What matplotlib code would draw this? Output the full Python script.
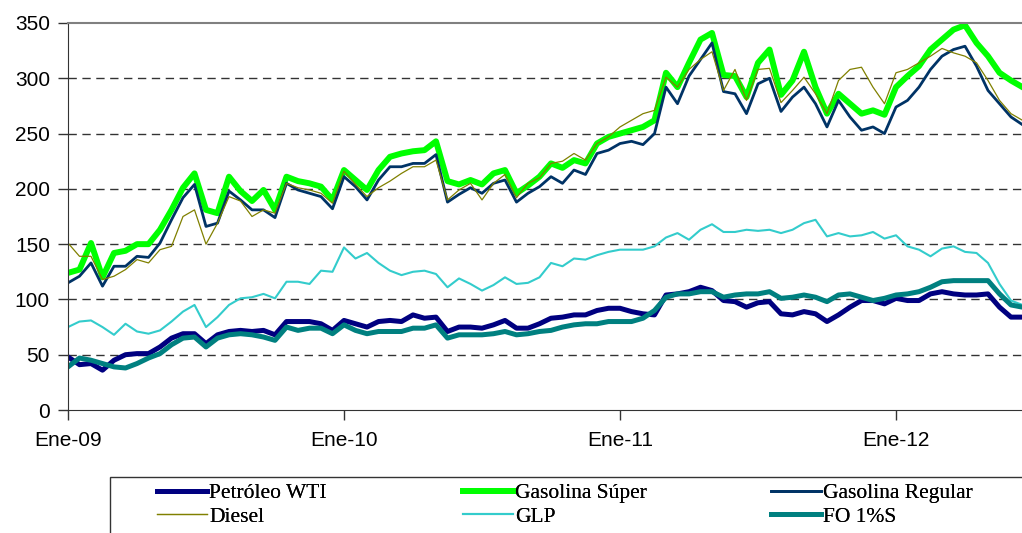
import matplotlib
matplotlib.use("Agg")
import matplotlib.pyplot as plt
from matplotlib.patches import Rectangle
import numpy as np

# half-month steps starting January 2009 (in years since Ene-09)
periods = np.arange(84) / 24.0
tick_pos = [0, 1, 2, 3]
tick_labels = ["Ene-09", "Ene-10", "Ene-11", "Ene-12"]

wti = [48, 41, 42, 36, 45, 50, 51, 51, 57, 65, 69, 69, 60, 68, 71, 72, 71, 72, 68, 80,
       80, 80, 78, 72, 81, 78, 75, 80, 81, 80, 86, 83, 84, 71, 75, 75, 74, 77, 81, 74,
       74, 78, 83, 84, 86, 86, 90, 92, 92, 89, 87, 86, 104, 105, 107, 111, 108, 99, 98, 93,
       97, 98, 87, 86, 89, 87, 80, 86, 93, 99, 99, 96, 101, 99, 99, 105, 107, 105, 104, 104,
       105, 93, 84, 84]
super_ = [124, 127, 151, 120, 142, 144, 150, 150, 163, 181, 201, 214, 181, 178, 211, 198, 189, 199, 181, 211,
          207, 205, 202, 190, 217, 208, 199, 217, 229, 232, 234, 235, 243, 207, 204, 208, 204, 214, 217, 196,
          203, 211, 223, 219, 226, 223, 241, 247, 250, 253, 256, 262, 305, 292, 314, 335, 341, 303, 302, 283,
          314, 326, 285, 298, 324, 292, 268, 286, 277, 268, 271, 267, 292, 302, 311, 326, 335, 344, 348, 332,
          320, 305, 298, 292]
regular = [115, 121, 133, 112, 130, 130, 139, 138, 151, 172, 192, 204, 166, 169, 198, 190, 181, 181, 174, 205,
           199, 196, 193, 182, 211, 202, 190, 208, 220, 220, 223, 223, 231, 188, 195, 201, 196, 205, 208, 188,
           196, 202, 211, 205, 217, 213, 232, 235, 241, 243, 240, 250, 292, 277, 302, 317, 332, 288, 286, 268,
           295, 300, 270, 283, 292, 277, 256, 280, 265, 253, 256, 250, 274, 280, 292, 308, 320, 326, 329, 311,
           289, 277, 265, 258]
diesel = [151, 139, 139, 118, 121, 127, 136, 133, 145, 148, 175, 181, 150, 169, 193, 189, 175, 181, 178, 205,
          201, 199, 196, 187, 216, 204, 193, 201, 207, 214, 220, 220, 226, 190, 199, 205, 190, 205, 213, 192,
          205, 210, 223, 225, 232, 226, 241, 247, 256, 262, 268, 271, 301, 292, 308, 317, 324, 289, 308, 280,
          308, 309, 278, 289, 301, 286, 268, 298, 308, 310, 292, 277, 305, 308, 314, 320, 327, 323, 320, 314,
          298, 280, 268, 262]
glp = [75, 80, 81, 75, 68, 78, 71, 69, 72, 80, 89, 95, 75, 84, 95, 101, 102, 105, 101, 116,
       116, 114, 126, 125, 147, 137, 142, 133, 126, 122, 125, 126, 123, 111, 119, 114, 108, 113, 120, 114,
       115, 120, 133, 130, 137, 136, 140, 143, 145, 145, 145, 148, 156, 160, 154, 163, 168, 161, 161, 163,
       162, 163, 160, 163, 169, 172, 157, 160, 157, 158, 161, 155, 158, 148, 145, 139, 146, 148, 143, 142,
       133, 114, 99, 95]
fo = [39, 47, 45, 42, 39, 38, 42, 47, 51, 59, 65, 66, 57, 65, 68, 69, 68, 66, 63, 75,
      72, 74, 74, 69, 77, 72, 69, 71, 71, 71, 74, 74, 77, 65, 68, 68, 68, 69, 71, 68,
      69, 71, 72, 75, 77, 78, 78, 80, 80, 80, 83, 90, 102, 105, 105, 107, 107, 102, 104, 105,
      105, 107, 101, 102, 104, 102, 98, 104, 105, 102, 99, 101, 104, 105, 107, 111, 116, 117, 117, 117,
      117, 105, 95, 93]

names = ["Petróleo WTI", "Gasolina Súper", "Gasolina Regular", "Diesel", "GLP", "FO 1%S"]
series = [wti, super_, regular, diesel, glp, fo]
colors = ["#000080", "#00FF00", "#003366", "#808000", "#33CCCC", "#008080"]
widths = [3.6, 4.3, 2.0, 0.9, 1.5, 3.6]

plt.rcParams['font.family'] = ['Liberation Sans', 'DejaVu Sans']

fig = plt.figure(figsize=(10.22, 5.33), dpi=100)
ax = fig.add_axes([68/1022, 1 - 410/533, 1 - 68/1022, (410 - 23)/533])

lines = []
for name, vals, c, w in zip(names, series, colors, widths):
    ln, = ax.plot(periods, vals, color=c, lw=w, label=name, solid_joinstyle='round')
    lines.append(ln)

ax.set_xlim(0, (1022 - 68) / 276)
ax.set_ylim(0, 350)
ax.set_yticks(np.arange(0, 351, 50))
ax.set_xticks(tick_pos)
ax.set_xticklabels(tick_labels)
ax.tick_params(axis='both', labelsize=15, length=7, width=1, color='#333333', direction='out')
ax.tick_params(axis='y', pad=6)
ax.tick_params(axis='x', pad=8)

for v in range(50, 301, 50):
    ax.axhline(v, color='#333333', lw=1, ls=(0, (6, 4)), zorder=0)

ax.spines['right'].set_visible(False)
ax.spines['top'].set_color('#808080')
ax.spines['top'].set_linewidth(1.5)
ax.spines['left'].set_color('#333333')
ax.spines['bottom'].set_color('#333333')

# legend box
fig.patches.append(Rectangle((110/1022, -0.05), 1.0, 1 - 477/533 + 0.05,
                             transform=fig.transFigure, fill=False,
                             edgecolor='#333333', lw=1))
col_x = [157, 463, 771]
for j in range(3):
    idx = [j, j + 3]
    lg = fig.legend([lines[i] for i in idx], [names[i] for i in idx],
                    ncol=1, loc='upper left', bbox_to_anchor=(col_x[j]/1022, 1 - 483/533),
                    frameon=False, prop={'family': 'Liberation Serif', 'size': 15.5},
                    handlelength=2.3, handletextpad=0.12,
                    labelspacing=0.18, borderaxespad=0, borderpad=0)
    fig.add_artist(lg)

fig.savefig("out.png", dpi=100)
